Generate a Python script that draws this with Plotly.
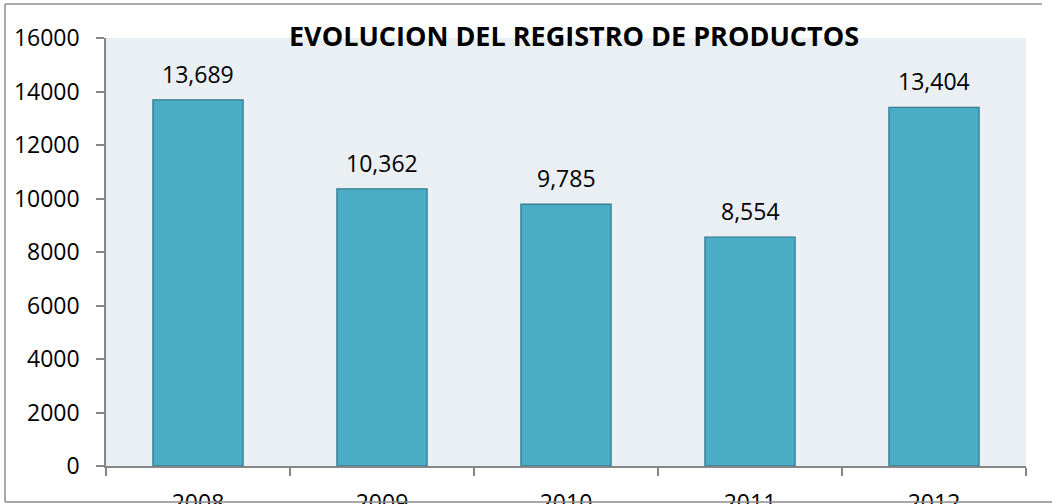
import plotly.graph_objects as go

years = ["2008", "2009", "2010", "2011", "2012"]
values = [13689, 10362, 9785, 8554, 13404]
title_text = "EVOLUCION DEL REGISTRO DE PRODUCTOS"

W, H = 1052, 504
L, R, T, B = 106, 1026, 38, 466

def px(x):
    return (x - L) / (R - L)

def py(y):
    return (B - y) / (B - T)

fig = go.Figure(go.Bar(
    x=years, y=values,
    width=0.49,
    marker=dict(color="#4BACC6", line=dict(color="#357D91", width=1.3)),
    hoverinfo="skip",
))

for i, v in enumerate(values):
    fig.add_annotation(x=i, y=v, text=f"{v:,}", showarrow=False,
                       yanchor="bottom", yshift=8, font=dict(size=23, color="#000000"))

font = "Open Sans, Liberation Sans, sans-serif"
fig.update_layout(
    width=W, height=H,
    margin=dict(l=L, r=W - R, t=T, b=H - B),
    paper_bgcolor="white",
    plot_bgcolor="#E9EFF3",
    font=dict(family=font, size=23, color="#000000"),
    showlegend=False,
    title=dict(text="<b>" + title_text + "</b>", xref="container", x=574 / W, xanchor="center",
               yref="container", y=1 - 37 / H, yanchor="middle", font=dict(size=27, color="#000000")),
    xaxis=dict(type="category", range=[-0.5, len(years) - 0.5],
               showline=True, linecolor="#868686", linewidth=1.5, automargin=False,
               ticks="outside", ticklen=8, tickcolor="#868686", tickwidth=1.5,
               tickson="boundaries", ticklabelstandoff=16,
               tickfont=dict(size=23)),
    yaxis=dict(range=[0, 16000], dtick=2000, showgrid=False, zeroline=False, automargin=False,
               showline=True, linecolor="#868686", linewidth=1.5,
               ticks="outside", ticklen=8, tickcolor="#868686", tickwidth=1.5,
               tickformat="d", ticklabelstandoff=12, tickfont=dict(size=23)),
    shapes=[
        dict(type="line", xref="paper", yref="paper", x0=px(5), x1=px(1042), y0=py(4), y1=py(4),
             line=dict(color="#8C8C8C", width=1.5)),
        dict(type="line", xref="paper", yref="paper", x0=px(5), x1=px(5), y0=py(4), y1=py(502),
             line=dict(color="#8C8C8C", width=1.5)),
        dict(type="line", xref="paper", yref="paper", x0=px(5), x1=px(1052), y0=py(502), y1=py(502),
             line=dict(color="#8C8C8C", width=1.5)),
    ],
)

fig.write_html("out.html", config={"displayModeBar": False},
               post_script="document.body.style.margin='0';document.body.style.overflow='hidden';")
